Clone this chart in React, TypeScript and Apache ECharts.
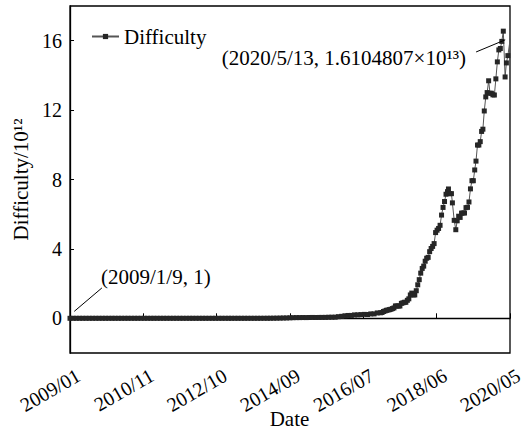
import React, { useEffect, useRef } from "react";
import * as echarts from "echarts";

const FONT = "Liberation Serif";

// x axis: days since 2009-01-09, tick every 690 days
const xTickInterval = 690;
const xMax = 4140;
const yMin = -2;
const yMax = 18;
const yTicks = [0, 4, 8, 12, 16];

// Difficulty / 10^12, sampled on the 9th of each month (Jan..Dec)
const diff2009 = [1e-12, 1e-12, 1e-12, 1e-12, 1e-12, 1e-12, 1e-12, 1e-12, 1e-12, 1.18e-12, 1.31e-12, 1.82e-12];
const diff2010 = [3.8e-12, 8.6e-12, 16.6e-12, 14.5e-12, 11.5e-12, 16.6e-12, 45.4e-12, 244e-12, 712e-12, 1379e-12, 4536e-12, 12252e-12];
const diff2011 = [1.5e-8, 2.2e-8, 6.7e-8, 9.2e-8, 2.44e-7, 5.67e-7, 1.56e-6, 1.8e-6, 1.76e-6, 1.3e-6, 1.09e-6, 1.1e-6];
const diff2012 = [1.25e-6, 1.38e-6, 1.5e-6, 1.6e-6, 1.7e-6, 1.73e-6, 1.87e-6, 2.07e-6, 2.69e-6, 2.87e-6, 3.37e-6, 3.37e-6];
const diff2013 = [3.4e-6, 3.3e-6, 4.4e-6, 7.67e-6, 10.1e-6, 15.6e-6, 26.1e-6, 37.3e-6, 86.9e-6, 189e-6, 390e-6, 908e-6];
const diff2014 = [0.00142, 0.00225, 0.00382, 0.0061, 0.00807, 0.0118, 0.0171, 0.0198, 0.0276, 0.0353, 0.04, 0.0404];
const diff2015 = [0.044, 0.0417, 0.0469, 0.0492, 0.0478, 0.049, 0.0514, 0.0524, 0.0596, 0.0628, 0.0651, 0.0932];
const diff2016 = [0.1137, 0.1441, 0.1635, 0.1661, 0.1946, 0.1996, 0.2134, 0.2252, 0.2206, 0.2537, 0.254, 0.31];

const lateDates = [
  "2017-01-09", "2017-01-23", "2017-02-06", "2017-02-20", "2017-03-06", "2017-03-20", "2017-04-03", "2017-04-17",
  "2017-05-01", "2017-05-15", "2017-05-29", "2017-06-12", "2017-06-26", "2017-07-10", "2017-07-24", "2017-08-07",
  "2017-08-21", "2017-09-04", "2017-09-18", "2017-10-02", "2017-10-16", "2017-10-30", "2017-11-13", "2017-11-27",
  "2017-12-11", "2017-12-25", "2018-01-08", "2018-01-22", "2018-02-05", "2018-02-19", "2018-03-05", "2018-03-19",
  "2018-04-02", "2018-04-16", "2018-04-30", "2018-05-14", "2018-05-28", "2018-06-11", "2018-06-25", "2018-07-09",
  "2018-07-23", "2018-08-06", "2018-08-20", "2018-09-03", "2018-09-17", "2018-10-01", "2018-10-10", "2018-10-24",
  "2018-11-07", "2018-11-16", "2018-12-03", "2018-12-18", "2018-12-31", "2019-01-14", "2019-01-28", "2019-02-10",
  "2019-02-24", "2019-03-10", "2019-03-24", "2019-04-07", "2019-04-21", "2019-05-05", "2019-05-19", "2019-06-01",
  "2019-06-14", "2019-06-26", "2019-07-10", "2019-07-23", "2019-08-05", "2019-08-18", "2019-08-30", "2019-09-12",
  "2019-09-26", "2019-10-09", "2019-10-23", "2019-11-05", "2019-11-18", "2019-12-02", "2019-12-16", "2019-12-30",
  "2020-01-13", "2020-01-27", "2020-02-10", "2020-02-24", "2020-03-09", "2020-03-26", "2020-04-07", "2020-04-21",
  "2020-05-13",
];
const lateDifficulty = [
  0.3173, 0.3362, 0.3926, 0.4229, 0.4609, 0.476, 0.4991, 0.521,
  0.5599, 0.5961, 0.7117, 0.7086, 0.7085, 0.7085, 0.8604, 0.8887,
  0.9231, 0.9229, 1.036, 1.123, 1.346, 1.452, 1.347, 1.347,
  1.59, 1.931, 2.227, 2.603, 2.874, 3.007, 3.29, 3.462,
  3.511, 3.84, 4.024, 4.144, 4.306, 4.94, 5.078, 5.178,
  5.36, 5.95, 6.39, 6.73, 7.15, 7.3, 7.454, 7.184,
  7.184, 6.653, 5.646, 5.106, 5.619, 5.884, 5.814, 6.062,
  6.071, 6.068, 6.379, 6.393, 6.704, 7.46, 7.93, 7.93,
  8.55, 9.06, 9.986, 9.985, 10.183, 10.77, 10.9, 11.95,
  12.76, 13.01, 13.69, 12.97, 12.97, 12.88, 12.87, 13.8,
  14.78, 15.47, 15.55, 15.96, 16.55, 13.91, 14.72, 15.14,
  16.1,
];

// annotation anchors (data coordinates: day offset, difficulty/10^12)
const noteFirst = { from: [40, 0.4], to: [300, 1.75], text: "(2009/1/9, 1)" };
const noteLast = { from: [3821, 15.35], to: [4095, 16.05], text: "(2020/5/13, 1.6104807×10¹³)" };
const xAxisTitle = "Date";

const START = Date.UTC(2009, 0, 9);
const DAY = 86400000;
const dayOf = (y: number, m: number, d: number) => (Date.UTC(y, m - 1, d) - START) / DAY;
const dayOfStr = (s: string) => {
  const [y, m, d] = s.split("-").map(Number);
  return dayOf(y, m, d);
};
const fmtDay = (v: number) => {
  const t = new Date(START + Math.round(v) * DAY);
  return `${t.getUTCFullYear()}/${String(t.getUTCMonth() + 1).padStart(2, "0")}`;
};

export default function App() {
  const ref = useRef<HTMLDivElement>(null);
  useEffect(() => {
    if (!ref.current) return;
    const chart = echarts.init(ref.current, undefined, { renderer: "svg" });
    const early: [number, number[]][] = [
      [2009, diff2009], [2010, diff2010], [2011, diff2011], [2012, diff2012],
      [2013, diff2013], [2014, diff2014], [2015, diff2015], [2016, diff2016],
    ];
    const points: number[][] = [];
    early.forEach(([y, arr]) => arr.forEach((v, i) => points.push([dayOf(y, i + 1, 9), v])));
    lateDates.forEach((d, i) => points.push([dayOfStr(d), lateDifficulty[i]]));

    chart.setOption({
      animation: false,
      backgroundColor: "#fff",
      textStyle: { fontFamily: FONT, color: "#000" },
      grid: {
        left: 70, right: 14, top: 6, bottom: 81,
        outerBoundsMode: "none", containLabel: false,
        show: true, borderColor: "#000", borderWidth: 1.3,
      },
      legend: {
        left: 86,
        top: 21,
        itemWidth: 27,
        itemHeight: 6.5,
        textStyle: { fontFamily: FONT, fontSize: 21, color: "#000" },
        data: ["Difficulty"],
      },
      xAxis: {
        type: "value",
        min: 0,
        max: xMax,
        interval: xTickInterval,
        splitLine: { show: false },
        axisLine: { lineStyle: { color: "#000", width: 1.3 } },
        axisTick: { inside: true, length: 5, lineStyle: { color: "#000", width: 1 } },
        axisLabel: {
          rotate: 30,
          align: "right",
          verticalAlign: "top",
          margin: 14,
          padding: [0, -4, 0, 0],
          fontFamily: FONT,
          fontSize: 20,
          color: "#000",
          showMaxLabel: true,
          showMinLabel: true,
          hideOverlap: false,
          formatter: (v: number) => fmtDay(v),
        },
      },
      yAxis: {
        type: "value",
        min: yMin,
        max: yMax,
        name: "Difficulty/10¹²",
        nameLocation: "middle",
        nameGap: 34,
        nameTextStyle: { fontFamily: FONT, fontSize: 21, color: "#000" },
        splitLine: { show: false },
        axisLine: { show: true, lineStyle: { color: "#000", width: 1.3 } },
        axisTick: { show: true, inside: true, length: 4, customValues: yTicks, lineStyle: { color: "#000", width: 1 } },
        axisLabel: { margin: 8, fontFamily: FONT, fontSize: 20, color: "#000", customValues: yTicks },
      },
      series: [
        {
          type: "line",
          name: "Difficulty",
          data: points,
          symbol: "rect",
          symbolSize: 5,
          showAllSymbol: true,
          itemStyle: { color: "#262626" },
          lineStyle: { color: "#555", width: 1 },
          clip: true,
          markLine: {
            silent: true,
            symbol: ["none", "none"],
            label: { show: false },
            lineStyle: { color: "#000", width: 1, type: "solid" },
            data: [
              [{ coord: noteFirst.from }, { coord: noteFirst.to }],
              [{ coord: noteLast.from }, { coord: noteLast.to }],
            ],
          },
        },
      ],
      graphic: [
        {
          type: "text",
          x: 101,
          y: 277,
          style: { text: noteFirst.text, fontFamily: FONT, fontSize: 21, fill: "#000", align: "left", verticalAlign: "middle" },
        },
        {
          type: "text",
          x: 466,
          y: 58,
          style: { text: noteLast.text, fontFamily: FONT, fontSize: 21, fill: "#000", align: "right", verticalAlign: "middle" },
        },
        {
          type: "text",
          x: 289.5,
          y: 419,
          style: { text: xAxisTitle, fontFamily: FONT, fontSize: 21, fill: "#000", align: "center", verticalAlign: "middle" },
        },
      ],
    });
    return () => chart.dispose();
  }, []);
  return <div ref={ref} style={{ position: "fixed", left: 0, top: 0, width: 524, height: 434 }} />;
}
